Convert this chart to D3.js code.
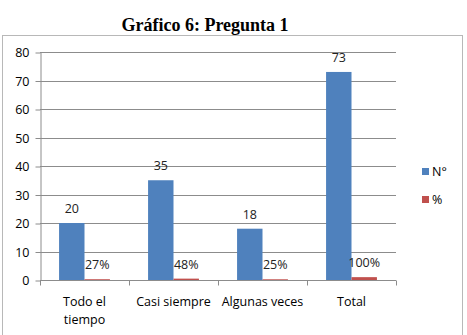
<!DOCTYPE html>
<html>
<head>
<meta charset="utf-8">
<script src="https://cdn.jsdelivr.net/npm/d3@7"></script>
<style>
  body { margin: 0; background: #fff; }
  svg text { font-family: "Open Sans", "Liberation Sans", sans-serif; }
</style>
</head>
<body>
<div id="chart"></div>
<script>
// chart values
const categories = ["Todo el tiempo", "Casi siempre", "Algunas veces", "Total"];
const countValues = [20, 35, 18, 73];
const percentValues = [0.27, 0.48, 0.25, 1];
const percentLabels = ["27%", "48%", "25%", "100%"];
const seriesNames = ["N°", "%"];
const yTicks = [0, 10, 20, 30, 40, 50, 60, 70, 80];

const width = 467, height = 335;
const margin = { top: 52, left: 40, right: 71, bottom: 55 };
const colors = ["#4F81BD", "#C0504D"];
const fs = "12.5px";

const svg = d3.select("#chart").append("svg")
    .attr("width", width)
    .attr("height", height);

// title
svg.append("text")
    .attr("x", 205)
    .attr("y", 31)
    .attr("text-anchor", "middle")
    .style("font-family", "'Liberation Serif', 'Times New Roman', serif")
    .style("font-weight", "bold")
    .style("font-size", "18px")
    .text("Gráfico 6: Pregunta 1");

// chart frame
svg.append("rect")
    .attr("x", 2.5)
    .attr("y", 35.5)
    .attr("width", 460)
    .attr("height", 310)
    .attr("fill", "none")
    .attr("stroke", "#b8b8b8");

let x = d3.scaleBand()
    .domain(categories)
    .range([margin.left, width - margin.right]);

let y = d3.scaleLinear()
    .domain([0, 80])
    .range([height - margin.bottom, margin.top]);

// gridlines
svg.append("g")
    .selectAll("line")
    .data(yTicks.slice(1))
    .enter()
    .append("line")
    .attr("x1", margin.left)
    .attr("x2", width - margin.right)
    .attr("y1", d => Math.round(y(d)) + 0.5)
    .attr("y2", d => Math.round(y(d)) + 0.5)
    .attr("stroke", "#8c8c8c");

// y axis
const yAxis = svg.append("g")
    .attr("transform", `translate(${margin.left + 0.5}, 0.5)`)
    .call(d3.axisLeft(y).tickValues(yTicks).tickSize(5).tickSizeOuter(0).tickPadding(6));
yAxis.select(".domain").attr("stroke", "#8c8c8c");
yAxis.selectAll(".tick line").attr("stroke", "#8c8c8c");
yAxis.selectAll(".tick text").style("font-size", fs).attr("fill", "#000");

// x axis with ticks at category boundaries
const xAxisG = svg.append("g")
    .attr("transform", `translate(0, ${Math.round(y(0)) + 0.5})`);
xAxisG.append("line")
    .attr("x1", margin.left)
    .attr("x2", width - margin.right)
    .attr("stroke", "#8c8c8c");
xAxisG.selectAll(".bound")
    .data(categories)
    .enter()
    .append("line")
    .attr("x1", d => Math.round(x(d) + x.bandwidth()) + 0.5)
    .attr("x2", d => Math.round(x(d) + x.bandwidth()) + 0.5)
    .attr("y1", 0)
    .attr("y2", 5)
    .attr("stroke", "#8c8c8c");
xAxisG.append("line")
    .attr("x1", margin.left + 0.5).attr("x2", margin.left + 0.5)
    .attr("y1", 0).attr("y2", 5)
    .attr("stroke", "#8c8c8c");

// category labels (wrapped like the original)
const catLines = { "Todo el tiempo": ["Todo el", "tiempo"] };
xAxisG.selectAll(".cat")
    .data(categories)
    .enter()
    .append("text")
    .attr("text-anchor", "middle")
    .style("font-size", fs)
    .attr("fill", "#000")
    .each(function (d) {
        const lines = catLines[d] || [d];
        d3.select(this).selectAll("tspan")
            .data(lines)
            .enter()
            .append("tspan")
            .attr("x", x(d) + x.bandwidth() / 2)
            .attr("y", (l, i) => 25 + i * 18)
            .text(l => l);
    });

// bars: gap width 150% like excel
const barW = x.bandwidth() / 3.5;
const gap = barW * 0.75;
const series = [countValues, percentValues];

series.forEach((vals, s) => {
    svg.append("g")
        .selectAll("rect")
        .data(vals)
        .enter()
        .append("rect")
        .attr("x", (d, i) => x(categories[i]) + gap + s * barW)
        .attr("y", d => y(d))
        .attr("width", barW)
        .attr("height", d => y(0) - y(d))
        .attr("fill", colors[s]);
});

// data labels
svg.append("g")
    .selectAll("text")
    .data(countValues)
    .enter()
    .append("text")
    .attr("x", (d, i) => x(categories[i]) + gap + barW / 2)
    .attr("y", d => y(d) - 10)
    .attr("text-anchor", "middle")
    .style("font-size", fs)
    .attr("fill", "#222")
    .text(d => d);

svg.append("g")
    .selectAll("text")
    .data(percentValues)
    .enter()
    .append("text")
    .attr("x", (d, i) => x(categories[i]) + gap + barW * 1.5)
    .attr("y", d => y(d) - 10)
    .attr("text-anchor", "middle")
    .style("font-size", fs)
    .attr("fill", "#222")
    .text((d, i) => percentLabels[i]);

// legend
const legend = svg.append("g")
    .selectAll("g")
    .data(seriesNames)
    .enter()
    .append("g")
    .attr("transform", (d, i) => `translate(422, ${168 + i * 28})`);
legend.append("rect")
    .attr("width", 7)
    .attr("height", 7)
    .attr("fill", (d, i) => colors[i]);
legend.append("text")
    .attr("x", 10)
    .attr("y", 8)
    .style("font-size", fs)
    .attr("fill", "#000")
    .text(d => d);
</script>
</body>
</html>
